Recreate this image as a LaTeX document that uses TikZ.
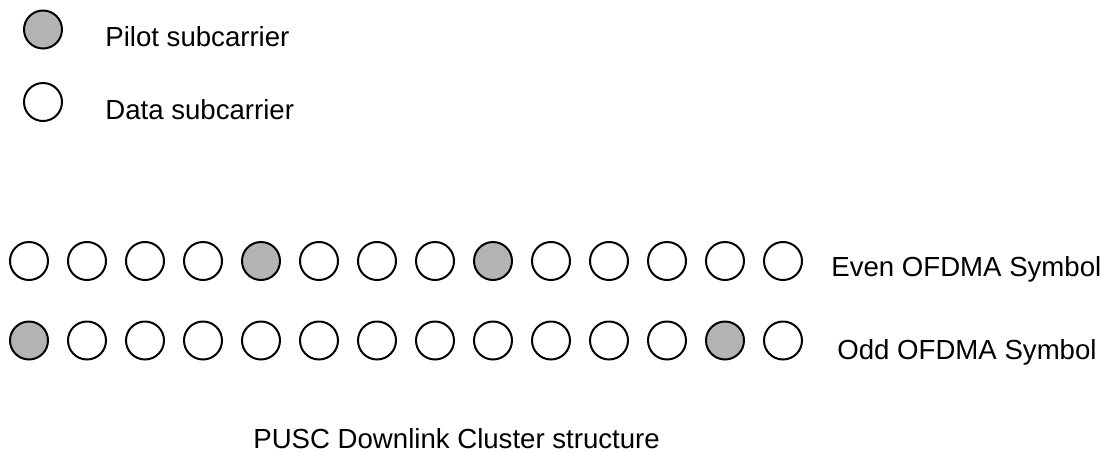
\documentclass[tikz,border=0pt]{standalone}
\usepackage{fontspec}
\setmainfont{Liberation Sans}
\definecolor{pilotgray}{RGB}{179,179,179}

\begin{document}
\begin{tikzpicture}[x=0.5pt,y=-0.5pt,
  data/.style={circle,draw,line width=1pt,minimum size=19pt,inner sep=0pt},
  pilot/.style={data,fill=pilotgray},
  lbl/.style={anchor=base west,inner sep=0pt,font=\fontsize{13.8}{16}\selectfont}]
\useasboundingbox (0,0) rectangle (1110,452);
% legend
\node[pilot] (legp) at (43,29.5) {};
\node[data] (legd) at (43,102) {};
\node[lbl] (legptxt) at (105,46.5) {Pilot subcarrier};
\node[lbl] (legdtxt) at (105,119) {Data subcarrier};
% even symbol
\foreach \i in {1,...,14} {
  \ifnum\i=5 \def\kind{pilot}\else\ifnum\i=9 \def\kind{pilot}\else\def\kind{data}\fi\fi
  \node[\kind] (e\i) at ({29+58*(\i-1)},261) {};
}
% odd symbol
\foreach \i in {1,...,14} {
  \ifnum\i=1 \def\kind{pilot}\else\ifnum\i=13 \def\kind{pilot}\else\def\kind{data}\fi\fi
  \node[\kind] (o\i) at ({29+58*(\i-1)},340.5) {};
}
\node[lbl] (eventxt) at (831,276) {Even OFDMA Symbol};
\node[lbl] (oddtxt) at (837,359) {Odd OFDMA Symbol};
\node[lbl] (title) at (253,448) {PUSC Downlink Cluster structure};
\end{tikzpicture}
\end{document}
